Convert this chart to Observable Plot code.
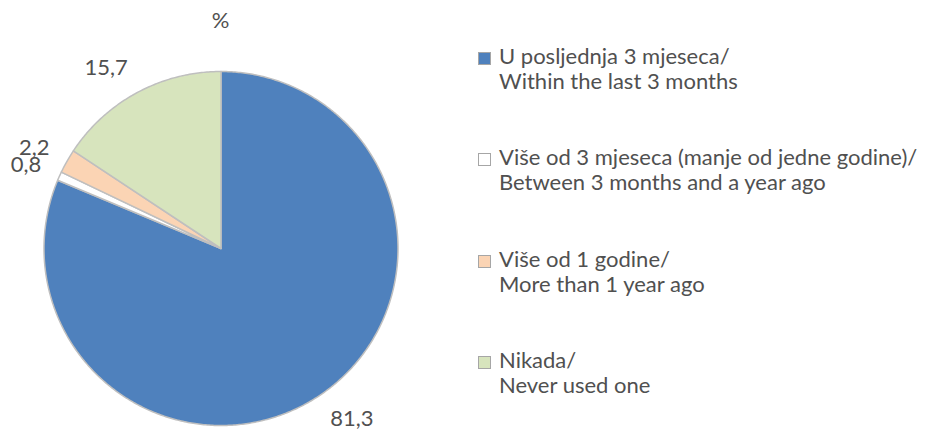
<!DOCTYPE html>
<html>
<head>
<meta charset="utf-8">
<script src="https://cdn.jsdelivr.net/npm/d3@7"></script>
<script src="https://cdn.jsdelivr.net/npm/@observablehq/plot@0.6"></script>
<style>
  body { margin: 0; background: #fff; }
  #wrap { position: relative; width: 930px; height: 432px; font-family: Lato, "Open Sans", sans-serif; color: #505050; }
  #wrap svg { position: absolute; left: 0; top: 0; }
  .leg { position: absolute; left: 478px; font-size: 22px; line-height: 25px; white-space: pre; }
  .sw { position: absolute; left: 0; top: 9px; width: 11px; height: 11px; border: 1.5px solid #a6a6a6; }
  .lt { position: absolute; left: 21px; top: 0; }
  #unit { position: absolute; left: 0; width: 441px; top: 7px; text-align: center; font-size: 22px; line-height: 26px; }
</style>
</head>
<body>
<div id="wrap"></div>
<script>
// ---- data ----
const categories = [
  "U posljednja 3 mjeseca/\nWithin the last 3 months",
  "Više od 3 mjeseca (manje od jedne godine)/\nBetween 3 months and a year ago",
  "Više od 1 godine/\nMore than 1 year ago",
  "Nikada/\nNever used one"
];
const values = [81.3, 0.8, 2.2, 15.7];
const valueLabels = ["81,3", "0,8", "2,2", "15,7"];
const colors = ["#4f81bd", "#ffffff", "#fbd4b4", "#d7e4bd"];
const unitLabel = "%";

// ---- layout ----
const W = 930, H = 432;
const cx = 220.5, cy = 248, R = 177;
const labelR = 1.113;   // label corner distance, in radii
const halfDigit = 8;    // half height of the digits, px

const rows = categories.map((c, i) => ({category: c, value: values[i], label: valueLabels[i]}));
const arcs = d3.pie().sort(null).value(d => d.value).startAngle(0).endAngle(2 * Math.PI)(rows);

// polygon outline of each slice in unit-circle coordinates
const pts = [];
arcs.forEach(a => {
  const key = a.data.category;
  pts.push({key, x: 0, y: 0});
  const n = Math.max(2, Math.ceil((a.endAngle - a.startAngle) / 0.01));
  for (let k = 0; k <= n; k++) {
    const t = a.startAngle + (a.endAngle - a.startAngle) * k / n;
    pts.push({key, x: Math.sin(t), y: -Math.cos(t)});
  }
  pts.push({key, x: 0, y: 0});
});

const labels = arcs.map(a => {
  const m = (a.startAngle + a.endAngle) / 2;
  const sx = Math.sin(m), sy = -Math.cos(m);
  return {label: a.data.label, x: labelR * sx, y: labelR * sy + sy * halfDigit / R,
          h: sx >= 0 ? "start" : "end"};
});

const textOpts = {x: "x", y: "y", text: "label", fontSize: 22, fill: "#505050"};
const side = h => Plot.text(labels.filter(d => d.h === h), {...textOpts, textAnchor: h});

const chart = Plot.plot({
  width: W, height: H,
  marginLeft: 0, marginRight: 0, marginTop: 0, marginBottom: 0,
  x: {domain: [-1, 1], range: [cx - R, cx + R], axis: null},
  y: {domain: [-1, 1], range: [cy - R, cy + R], axis: null},
  color: {type: "ordinal", domain: categories, range: colors},
  style: {fontFamily: "Lato, 'Open Sans', sans-serif", background: "transparent"},
  marks: [
    Plot.line(pts, {x: "x", y: "y", z: "key", fill: "key", stroke: "#bfbfbf", strokeWidth: 1.5, curve: "linear", strokeLinejoin: "round"}),
    side("end"), side("start")
  ]
});

const wrap = document.getElementById("wrap");
wrap.appendChild(chart);

const unit = document.createElement("div");
unit.id = "unit";
unit.textContent = unitLabel;
wrap.appendChild(unit);

categories.forEach((c, i) => {
  const e = document.createElement("div");
  e.className = "leg";
  e.style.top = (43 + 101.3 * i) + "px";
  const sw = document.createElement("div");
  sw.className = "sw";
  sw.style.background = colors[i];
  const t = document.createElement("div");
  t.className = "lt";
  t.textContent = c;
  e.appendChild(sw); e.appendChild(t);
  wrap.appendChild(e);
});
</script>
</body>
</html>
